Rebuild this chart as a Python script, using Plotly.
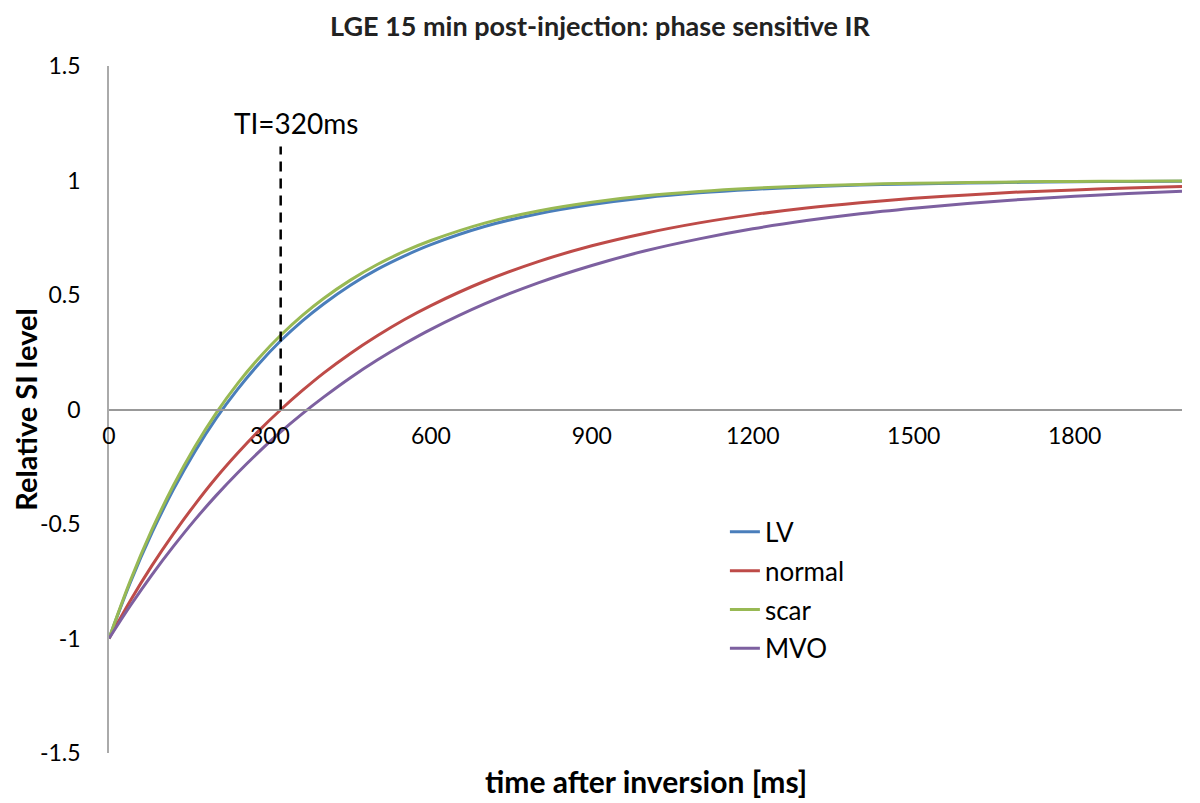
import plotly.graph_objects as go

# time after inversion (ms) and relative signal
t_ms = [0, 40, 80, 120, 160, 200, 240, 280, 320, 360, 400, 450, 500, 550, 600,
        700, 800, 900, 1000, 1100, 1200, 1300, 1400, 1500, 1600, 1700, 1800, 1900, 2000]

lv = [-1.0, -0.754, -0.539, -0.350, -0.184, -0.038, 0.089, 0.201, 0.300, 0.386, 0.461,
      0.543, 0.612, 0.670, 0.720, 0.799, 0.855, 0.895, 0.925, 0.946, 0.961, 0.972,
      0.980, 0.985, 0.989, 0.992, 0.995, 0.996, 0.997]
normal = [-1.0, -0.834, -0.682, -0.543, -0.415, -0.297, -0.190, -0.091, -0.001, 0.082,
          0.159, 0.245, 0.322, 0.392, 0.454, 0.560, 0.646, 0.715, 0.770, 0.815, 0.851,
          0.880, 0.903, 0.922, 0.937, 0.950, 0.959, 0.967, 0.974]
scar = [-1.0, -0.746, -0.525, -0.332, -0.163, -0.015, 0.114, 0.226, 0.324, 0.410, 0.485,
        0.565, 0.633, 0.690, 0.738, 0.814, 0.867, 0.905, 0.933, 0.952, 0.966, 0.976,
        0.983, 0.988, 0.991, 0.994, 0.996, 0.997, 0.998]
mvo = [-1.0, -0.856, -0.722, -0.598, -0.482, -0.375, -0.276, -0.184, -0.098, -0.019,
       0.054, 0.139, 0.216, 0.286, 0.350, 0.461, 0.553, 0.629, 0.693, 0.745, 0.789,
       0.825, 0.855, 0.879, 0.900, 0.917, 0.931, 0.943, 0.953]

x_ticks = [0, 300, 600, 900, 1200, 1500, 1800]
y_ticks = [-1.5, -1, -0.5, 0, 0.5, 1, 1.5]
y_tick_text = ["-1.5", "-1", "-0.5", "0", "0.5", "1", "1.5"]

ti = 320
ti_top = 1.148

series = [("LV", lv, "#4A7EBB"), ("normal", normal, "#BE4B48"),
          ("scar", scar, "#98B954"), ("MVO", mvo, "#7D60A0")]

fnt = "Lato, 'Open Sans', sans-serif"

fig = go.Figure()
for name, vals, col in series:
    fig.add_trace(go.Scatter(x=t_ms, y=vals, name=name, mode="lines", legendgroup=name,
                             line=dict(color=col, width=3, shape="spline")))

fig.add_shape(type="line", x0=ti, x1=ti, y0=0, y1=ti_top, xref="x", yref="y",
              line=dict(color="black", width=2.5, dash="10px,7px"))
fig.add_annotation(x=ti, y=1.253, xref="x", yref="y", text="TI=320ms", xshift=16,
                   showarrow=False, font=dict(size=28, color="black"))
fig.add_annotation(x=0.5, y=-0.0408, xref="paper", yref="paper", yanchor="middle",
                   text="<b>time after inversion [ms]</b>", showarrow=False,
                   font=dict(size=30, color="black"))

fig.update_layout(
    width=1184, height=795,
    margin=dict(l=96, r=10, t=58, b=50),
    paper_bgcolor="white", plot_bgcolor="white",
    font=dict(family=fnt, color="black"),
    title=dict(text="<b>LGE 15 min post-injection: phase sensitive IR</b>",
               x=0.5, xref="container", xanchor="center",
               y=0.977, yref="container", yanchor="middle",
               font=dict(size=27, color="#222222")),
    legend=dict(x=0.574, y=0.356, xanchor="left", yanchor="top",
                font=dict(size=26), bgcolor="rgba(0,0,0,0)",
                itemwidth=30, tracegroupgap=2),
    xaxis=dict(range=[0, 2000], tickvals=x_ticks,
               showgrid=False, zeroline=False, showline=True,
               linecolor="#999999", linewidth=2, anchor="free", position=0.5,
               ticks="", tickfont=dict(size=23), ticklabelstandoff=6),
    yaxis=dict(range=[-1.5, 1.5], tickvals=y_ticks, ticktext=y_tick_text,
               showgrid=False, zeroline=False, showline=True,
               linecolor="#AAAAAA", linewidth=1.5, ticks="",
               tickfont=dict(size=23), ticklabelstandoff=22,
               title=dict(text="<b>Relative SI level</b>", font=dict(size=29),
                          standoff=2)),
)

fig.write_html("out.html")
